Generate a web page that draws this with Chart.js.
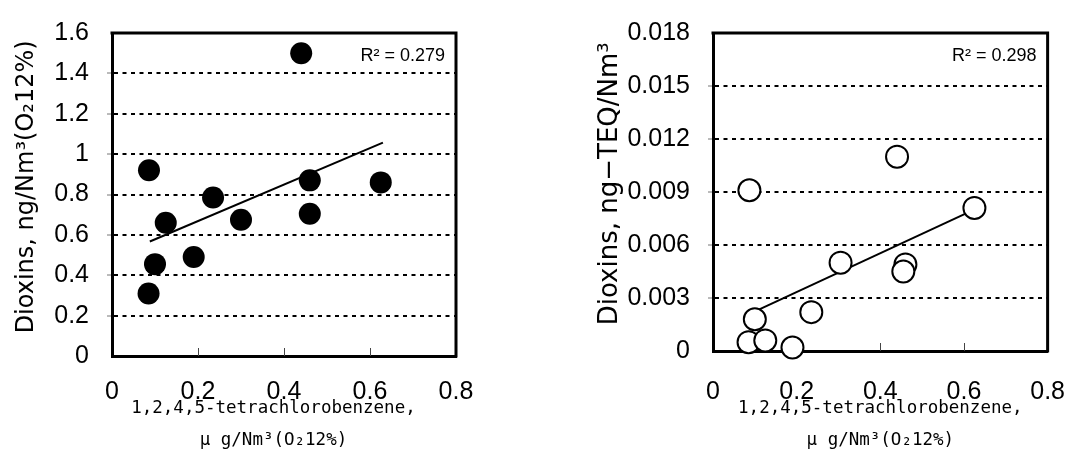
<!DOCTYPE html>
<html><head><meta charset="utf-8">
<script src="https://cdn.jsdelivr.net/npm/chart.js@4"></script>
<style>
html,body{margin:0;padding:0;background:#fff;width:1091px;height:466px;overflow:hidden}
#c1{position:absolute;left:0;top:0}
#c2{position:absolute;left:545px;top:0}
</style></head><body>
<canvas id="c1" width="545" height="466"></canvas>
<canvas id="c2" width="546" height="466"></canvas>
<script>
// ---- data ----
const tcbX1     = [0.086, 0.44, 0.46, 0.625, 0.235, 0.46, 0.30, 0.125, 0.19, 0.10, 0.085];
const dioxinY1  = [0.92, 1.50, 0.87, 0.86, 0.785, 0.705, 0.675, 0.66, 0.49, 0.455, 0.31];
const trendX1   = [0.088, 0.63];
const trendY1   = [0.567, 1.057];

const tcbX2     = [0.087, 0.44, 0.625, 0.305, 0.46, 0.455, 0.235, 0.10, 0.085, 0.125, 0.19];
const teqY2     = [0.0091, 0.0110, 0.0081, 0.0050, 0.0049, 0.0045, 0.0022, 0.0018, 0.0005, 0.0006, 0.0002];
const trendX2   = [0.103, 0.6245];
const trendY2   = [0.00227, 0.0080];

const xTickValues  = [0, 0.2, 0.4, 0.6, 0.8];
const xTickLabels  = ['0', '0.2', '0.4', '0.6', '0.8'];
const yTickValues1 = [0, 0.2, 0.4, 0.6, 0.8, 1.0, 1.2, 1.4, 1.6];
const yTickLabels1 = ['0', '0.2', '0.4', '0.6', '0.8', '1', '1.2', '1.4', '1.6'];
const yTickValues2 = [0, 0.003, 0.006, 0.009, 0.012, 0.015, 0.018];
const yTickLabels2 = ['0', '0.003', '0.006', '0.009', '0.012', '0.015', '0.018'];

const r2Text1 = 'R\u00B2 = 0.279';
const r2Text2 = 'R\u00B2 = 0.298';
const yTitle1 = '  Dioxins, ng/Nm\u00B3(O\u208212%)';
const yTitle2 = '  Dioxins, ng\u2212TEQ/Nm\u00B3';
const xTitle1 = ['1,2,4,5-tetrachlorobenzene,  ', '\u03BC g/Nm\u00B3(O\u208212%)  '];
const xTitle2 = ['1,2,4,5-tetrachlorobenzene,', '\u03BC g/Nm\u00B3(O\u208212%)'];

// ---- rendering ----
const SANS = '"Liberation Sans", Arial, Helvetica, sans-serif';
const WIDE = '"DejaVu Sans", sans-serif';
const MONO = '"DejaVu Sans Mono", monospace';

const framePlugin = {
  id: 'frame',
  beforeDatasetsDraw(chart) {
    const a = chart.chartArea, ctx = chart.ctx, xs = chart.scales.x;
    ctx.save();
    ctx.strokeStyle = '#000';
    ctx.lineWidth = 3;
    ctx.beginPath();
    ctx.moveTo(a.left - 1.5, a.top);
    ctx.lineTo(a.right, a.top);
    ctx.lineTo(a.right, a.bottom + 1.5);
    ctx.stroke();
    // inward tick marks on the x axis
    ctx.lineWidth = 1;
    ctx.strokeStyle = '#444';
    xs.ticks.forEach(t => {
      if (t.value <= xs.min || t.value >= xs.max) return;
      const px = Math.round(xs.getPixelForValue(t.value)) + 0.5;
      ctx.beginPath();
      ctx.moveTo(px, a.bottom);
      ctx.lineTo(px, a.bottom - 8);
      ctx.stroke();
    });
    ctx.restore();
  },
  afterDraw(chart, args, opts) {
    const a = chart.chartArea, ctx = chart.ctx;
    ctx.save();
    ctx.font = '18px ' + SANS;
    ctx.fillStyle = '#000';
    ctx.textAlign = 'right';
    ctx.textBaseline = 'middle';
    ctx.fillText(opts.text, a.right - 11, a.top + 23);
    ctx.restore();
  }
};

function makeChart(id, g) {
  const H = 466;
  const hideEdge = (max, col) => (c) => (c.tick && (c.tick.value <= 0 || c.tick.value >= max - 1e-12)) ? 'rgba(0,0,0,0)' : col;
  return new Chart(document.getElementById(id), {
    type: 'scatter',
    data: {
      datasets: [
        {
          type: 'scatter',
          data: g.xs.map((x, i) => ({ x: x, y: g.ys[i] })),
          pointRadius: 11,
          pointHoverRadius: 11,
          pointBackgroundColor: g.fill,
          pointBorderColor: '#000',
          pointBorderWidth: g.pbw,
          order: 1,
          clip: false
        },
        {
          type: 'line',
          data: g.tx.map((x, i) => ({ x: x, y: g.ty[i] })),
          borderColor: '#000',
          borderWidth: 2,
          pointRadius: 0,
          fill: false,
          tension: 0,
          showLine: true,
          order: 2,
          clip: false
        }
      ]
    },
    options: {
      responsive: false,
      animation: false,
      events: [],
      devicePixelRatio: 1,
      layout: { autoPadding: false, padding: { left: 0, top: g.top, right: g.cw - g.right, bottom: 0 } },
      plugins: { legend: { display: false }, tooltip: { enabled: false }, frame: { text: g.r2 } },
      scales: {
        x: {
          type: 'linear', min: 0, max: 0.8,
          afterBuildTicks: s => { s.ticks = xTickValues.map(v => ({ value: v })); },
          afterFit: s => { s.height = H - g.bottom; },
          ticks: { padding: g.xpad, color: '#000', font: { family: SANS, size: 25 }, maxRotation: 0, autoSkip: false,
                   callback: (v, i) => xTickLabels[i] },
          grid: { drawOnChartArea: false, drawTicks: false },
          border: { display: true, color: '#000', width: 3 },
          title: { display: true, text: g.xtitle, color: '#000',
                   font: { family: MONO, size: 17.5, lineHeight: 1.8 }, padding: { top: 0, bottom: 10 } }
        },
        y: {
          type: 'linear', min: 0, max: g.ymax,
          afterBuildTicks: s => { s.ticks = g.yvals.map(v => ({ value: v })); },
          afterFit: s => { s.width = g.left; },
          ticks: { padding: 18, color: '#000', font: { family: SANS, size: 25 }, autoSkip: false,
                   callback: (v, i) => g.ylabs[i] },
          grid: { color: hideEdge(g.ymax, '#000'), lineWidth: 2, drawTicks: true, tickLength: 5, tickWidth: 1,
                  tickColor: hideEdge(g.ymax, '#777') },
          border: { display: true, color: '#000', width: 3, dash: [4, 4.5] },
          title: { display: true, text: g.ytitle, color: '#000',
                   font: { family: WIDE, size: g.ytsize, lineHeight: 1.2 }, padding: { top: g.ytpad, bottom: 0 } }
        }
      }
    },
    plugins: [framePlugin]
  });
}

makeChart('c1', {
  cw: 545, left: 112, right: 456, top: 20, bottom: 356, xpad: 21,
  xs: tcbX1, ys: dioxinY1, tx: trendX1, ty: trendY1,
  ymax: 1.6, yvals: yTickValues1, ylabs: yTickLabels1, xtitle: xTitle1,
  ytitle: yTitle1, ytsize: 24, ytpad: 12, r2: r2Text1, fill: '#000', pbw: 0
});
makeChart('c2', {
  cw: 546, left: 168, right: 525, top: 21, bottom: 351, xpad: 26,
  xs: tcbX2, ys: teqY2, tx: trendX2, ty: trendY2,
  ymax: 0.018, yvals: yTickValues2, ylabs: yTickLabels2, xtitle: xTitle2,
  ytitle: yTitle2, ytsize: 26, ytpad: 50, r2: r2Text2, fill: '#fff', pbw: 2
});
</script>
</body></html>
